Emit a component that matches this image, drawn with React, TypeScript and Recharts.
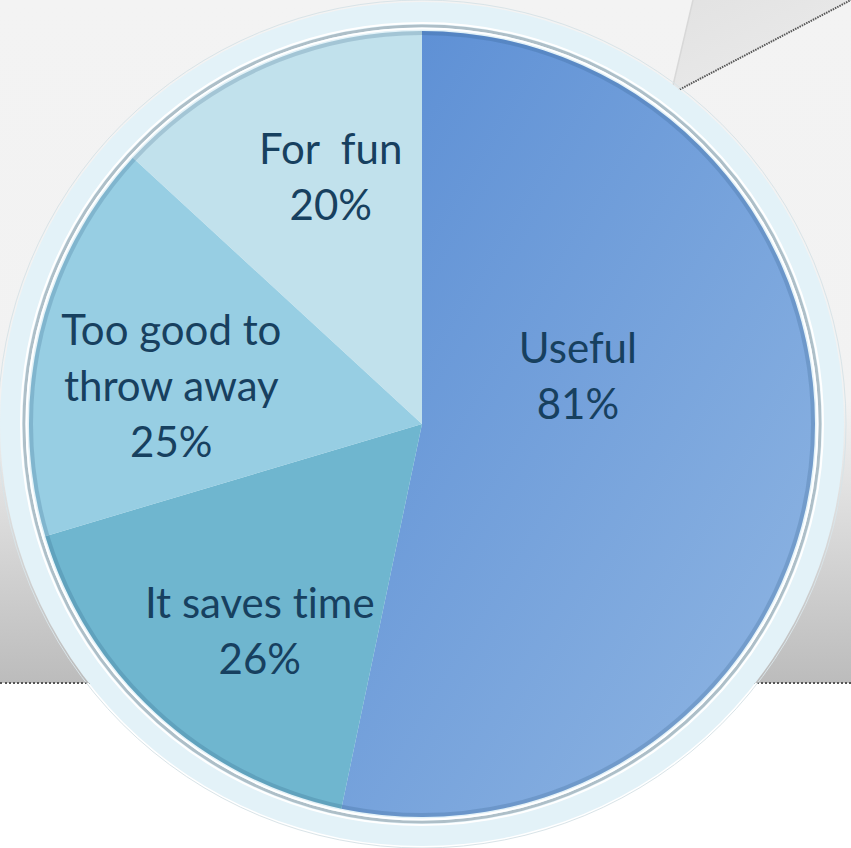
import React from "react";
import { PieChart, Pie, Cell } from "recharts";

const categories = ["Useful", "It saves time", "Too good to throw away", "For fun"];
const values = [81, 26, 25, 20];
const labelLines = [["Useful"], ["It saves time"], ["Too good to", "throw away"], ["For  fun"]];

const sliceFills = ["url(#usefulGrad)", "#6fb6cf", "#97cee3", "#c1e1ec"];
const labelRadiusFactor = [0.415, 0.67, 0.645, 0.67];
const labelAngleShift = [23, 4.6, 4.5, -3.4];

const W = 851;
const H = 848;
const CX = 422;
const CY = 424;
const R = 393;
const FONT = "Lato, 'Open Sans', sans-serif";
const TEXT_COLOR = "#17405f";
const LINE_H = 56;

const data = categories.map((name, i) => ({ name, value: values[i] }));

const RADIAN = Math.PI / 180;

const renderLabel = (props: any) => {
  const { cx, cy, midAngle, outerRadius, index, value } = props;
  const ang = (midAngle + labelAngleShift[index]) * RADIAN;
  const r = outerRadius * labelRadiusFactor[index];
  const x = cx + r * Math.cos(ang);
  const y = cy - r * Math.sin(ang);
  const lines = [...labelLines[index], `${value}%`];
  const n = lines.length;
  const firstY = y - ((n - 1) * LINE_H) / 2 + 15;
  return (
    <text
      key={`lbl-${index}`}
      x={x}
      y={firstY}
      textAnchor="middle"
      fill={TEXT_COLOR}
      style={{
        fontFamily: FONT,
        fontSize: 42,
        whiteSpace: "pre",
        fontVariantLigatures: "none",
      }}
    >
      {lines.map((t, i) => (
        <tspan key={i} x={x} y={firstY + i * LINE_H}>
          {t}
        </tspan>
      ))}
    </text>
  );
};

export default function App() {
  return (
    <div
      style={{
        position: "absolute",
        left: 0,
        top: 0,
        width: W,
        height: H,
        overflow: "hidden",
        background: "#ffffff",
      }}
    >
      {/* background band */}
      <div
        style={{
          position: "absolute",
          left: 0,
          top: 0,
          width: W,
          height: 683,
          background:
            "linear-gradient(to bottom, #f3f3f3 0px, #f2f2f2 400px, #bcbcbc 682px)",
        }}
      />
      <div
        style={{
          position: "absolute",
          left: 0,
          top: 682,
          width: W,
          height: 2,
          borderTop: "2px dotted #555",
        }}
      />
      {/* callout tail and ring */}
      <svg width={W} height={H} style={{ position: "absolute", left: 0, top: 0 }}>
        <defs>
          <linearGradient id="calloutGrad" x1="0" y1="0" x2="1" y2="1">
            <stop offset="0%" stopColor="#e2e2e2" />
            <stop offset="100%" stopColor="#ececec" />
          </linearGradient>
        </defs>
        <polygon points="693,0 851,0 671,94" fill="url(#calloutGrad)" />
        <line x1={671} y1={94} x2={851} y2={0} stroke="#555" strokeWidth={2} strokeDasharray="1.5 1" />
        <line x1={671} y1={94} x2={693} y2={0} stroke="#d8d8d8" strokeWidth={1.5} />
        <circle cx={CX} cy={CY} r={422} fill="#e3f2f8" />
        <circle cx={CX} cy={CY} r={424} fill="none" stroke="#d9e4e8" strokeWidth={1} />
        <circle cx={CX} cy={CY} r={401} fill="none" stroke="#ffffff" strokeWidth={2} />
        <circle cx={CX} cy={CY} r={398} fill="none" stroke="#aebfc8" strokeWidth={3} />
        <circle cx={CX} cy={CY} r={395.5} fill="none" stroke="#ffffff" strokeWidth={2} />
      </svg>
      <div style={{ position: "absolute", left: 0, top: 0 }}>
        <PieChart width={W} height={H} margin={{ top: 0, right: 0, bottom: 0, left: 0 }}>
          <defs>
            <linearGradient id="usefulGrad" x1="0" y1="0" x2="1" y2="1">
              <stop offset="0%" stopColor="#5a8dd4" />
              <stop offset="100%" stopColor="#91b7e3" />
            </linearGradient>
          </defs>
          <Pie
            data={data}
            dataKey="value"
            nameKey="name"
            cx={CX}
            cy={CY}
            outerRadius={R}
            startAngle={90}
            endAngle={-270}
            stroke="none"
            labelLine={false}
            label={renderLabel}
            isAnimationActive={false}
          >
            {data.map((d, i) => (
              <Cell key={d.name} fill={sliceFills[i]} />
            ))}
          </Pie>
        </PieChart>
      </div>
      <svg
        width={W}
        height={H}
        style={{ position: "absolute", left: 0, top: 0, pointerEvents: "none" }}
      >
        <circle cx={CX} cy={CY} r={R - 2} fill="none" stroke="rgba(30,70,110,0.18)" strokeWidth={4} />
      </svg>
    </div>
  );
}
